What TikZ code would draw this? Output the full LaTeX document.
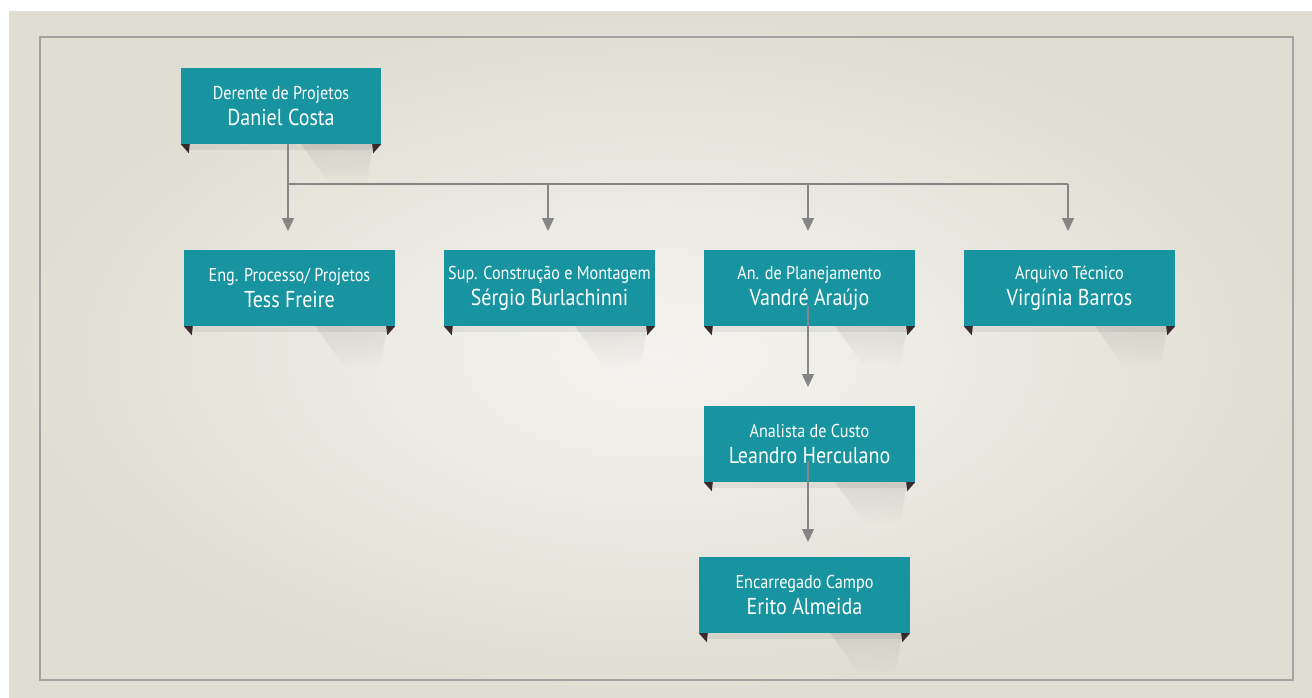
\documentclass[tikz,border=0pt]{standalone}
\usepackage{fontspec}
\setmainfont[FakeStretch=0.87]{PT Sans}
\usetikzlibrary{arrows.meta,fadings}
\definecolor{teal1}{HTML}{17949F}
\definecolor{fold}{HTML}{3A2A2E}
\definecolor{linegray}{HTML}{858585}
\definecolor{bgout}{HTML}{E0DED3}
\definecolor{bgin}{HTML}{F4F3EF}
\definecolor{framegray}{HTML}{A3A3A3}
\tikzset{
  card/.style={fill=teal1, text=white, minimum width=211pt, minimum height=76pt, inner sep=0pt, align=center, font=\fontsize{18.6}{26}\selectfont},
  conn/.style={draw=linegray, line width=1.4pt},
  arr/.style={conn, -{Triangle[length=13pt,width=12pt]}},
}
\newcommand{\nm}[1]{{\fontsize{23}{26}\selectfont #1}}
\newcommand{\cardfx}[1]{%
  \fill[black, opacity=0.06] ([xshift=8pt]#1.south west) rectangle ([xshift=-8pt,yshift=-6pt]#1.south east);
  \fill[black, opacity=0.07, path fading=south] ([xshift=-80pt]#1.south east) -- ([xshift=-8pt]#1.south east) -- ([xshift=-15pt,yshift=-42pt]#1.south east) -- ([xshift=-50pt,yshift=-42pt]#1.south east) -- cycle;
  \fill[fold] (#1.south west) -- ([xshift=9pt]#1.south west) -- ([xshift=8pt,yshift=-9pt]#1.south west) -- cycle;
  \fill[fold] (#1.south east) -- ([xshift=-9pt]#1.south east) -- ([xshift=-8pt,yshift=-9pt]#1.south east) -- cycle;
}
\begin{document}
\begin{tikzpicture}[x=1pt,y=-1pt]
\useasboundingbox (0,0) rectangle (1312,697);
\fill[white] (0,0) rectangle (1312,697);
\shade[inner color=bgin, outer color=bgout] (9,11) rectangle (1312,697);
\draw[framegray, line width=2pt] (40,37) rectangle (1293,680);

\node[card, minimum width=200pt] (dc) at (281,106) {Derente de Projetos\\\nm{Daniel Costa}};
\node[card] (tf) at (289.5,288) {Eng. Processo/ Projetos\\\nm{Tess Freire}};
\node[card] (sb) at (549.5,288) {Sup. Construção e Montagem\\\nm{Sérgio Burlachinni}};
\node[card] (va) at (809.5,288) {An. de Planejamento\\\nm{Vandré Araújo}};
\node[card] (vb) at (1069.5,288) {Arquivo Técnico\\\nm{Virgínia Barros}};
\node[card] (lh) at (809.5,444) {Analista de Custo\\\nm{Leandro Herculano}};
\node[card] (ea) at (804.5,595) {Encarregado Campo\\\nm{Erito Almeida}};

\foreach \n in {dc,tf,sb,va,vb,lh,ea}{\cardfx{\n}}

\coordinate (bus) at (288,184);
\coordinate (busend) at (1068,184);
\draw[conn] (288,144) -- (bus) -- (busend);
\draw[arr] (bus) -- (288,231);
\draw[arr] (548,184) -- (548,231);
\draw[arr] (808,184) -- (808,231);
\draw[arr] (busend) -- (1068,231);
\draw[arr] (808,306) -- (808,387);
\draw[arr] (808,461) -- (808,542);
\end{tikzpicture}
\end{document}
